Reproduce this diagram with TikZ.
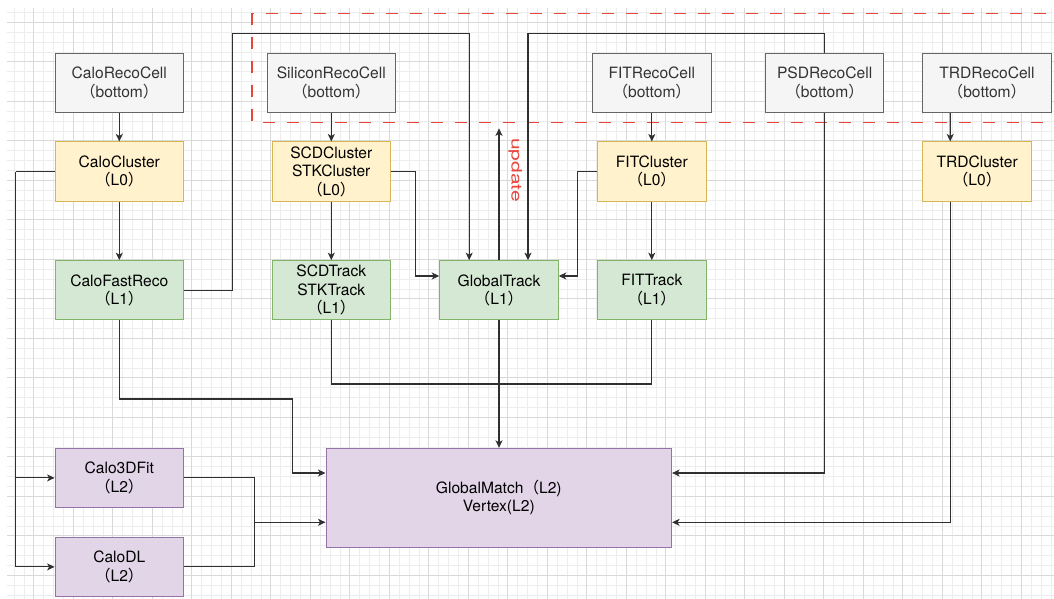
\documentclass[tikz,border=0pt]{standalone}
\usepackage{fontspec}
\setmainfont{TeX Gyre Heros}
\newfontfamily\cjkfont{Noto Sans CJK SC}
\usetikzlibrary{arrows.meta}
\newcommand{\fwlp}{{\cjkfont （}}
\newcommand{\fwrp}{{\cjkfont ）}}

\definecolor{gridminor}{HTML}{EDEDED}
\definecolor{gridmajor}{HTML}{D9D9D9}
\definecolor{cellfill}{HTML}{F5F5F5}
\definecolor{celldraw}{HTML}{666666}
\definecolor{celltext}{HTML}{333333}
\definecolor{lzfill}{HTML}{FFF2CC}
\definecolor{lzdraw}{HTML}{D6B656}
\definecolor{lofill}{HTML}{D5E8D4}
\definecolor{lodraw}{HTML}{82B366}
\definecolor{ltfill}{HTML}{E1D5E7}
\definecolor{ltdraw}{HTML}{9673A6}
\definecolor{linecol}{HTML}{303030}
\definecolor{markred}{HTML}{E8453C}

\tikzset{
  box/.style={draw, line width=1pt, minimum height=59.25pt, inner sep=0pt,
    align=center, font=\fontsize{15.6}{18.5}\selectfont},
  cellbox/.style={box, fill=cellfill, draw=celldraw, text=celltext, minimum width=#1},
  lzbox/.style={box, fill=lzfill, draw=lzdraw, minimum width=#1},
  lobox/.style={box, fill=lofill, draw=lodraw, minimum width=#1},
  ltbox/.style={box, fill=ltfill, draw=ltdraw, minimum width=#1},
  link/.style={line width=1.1pt, draw=linecol},
  arr/.style={link, -{Stealth[length=7.5pt,width=7pt,inset=2pt]}},
  minorline/.style={draw=gridminor, line width=0.8pt},
  majorline/.style={draw=gridmajor, line width=0.9pt},
  groupframe/.style={draw=markred, line width=1.3pt, dash pattern=on 12pt off 12pt},
}

\begin{document}
\begin{tikzpicture}[x=1pt, y=-1pt]
\useasboundingbox (0,0) rectangle (1054,599);
\fill[white] (0,0) rectangle (1054,599);

% background grid
\foreach \i in {0,...,105} \draw[minorline] ({14.05+9.875*\i},8) -- ({14.05+9.875*\i},599);
\foreach \i in {0,...,59} \draw[minorline] (7,{12.425+9.875*\i}) -- (1054,{12.425+9.875*\i});
\foreach \i in {0,...,25} \draw[majorline] ({33.8+39.5*\i},8) -- ({33.8+39.5*\i},599);
\foreach \i in {0,...,14} \draw[majorline] (7,{22.3+39.5*\i}) -- (1054,{22.3+39.5*\i});

% dashed frame around the raw cell inputs
\begin{scope}
  \clip (0,0) rectangle (1054,599);
  \draw[groupframe] (251.9,13.3) rectangle (1080,122.3);
\end{scope}

% bottom-level cells
\node[cellbox=128.4pt] (calocell) at (119.3,82.9) {CaloRecoCell\\\fwlp bottom\fwrp};
\node[cellbox=128.4pt] (sicell)   at (331.3,82.9) {SiliconRecoCell\\\fwlp bottom\fwrp};
\node[cellbox=118.5pt] (fitcell)  at (651.8,82.9) {FITRecoCell\\\fwlp bottom\fwrp};
\node[cellbox=118.5pt] (psdcell)  at (824.6,82.9) {PSDRecoCell\\\fwlp bottom\fwrp};
\node[cellbox=128.4pt] (trdcell)  at (987.0,82.9) {TRDRecoCell\\\fwlp bottom\fwrp};

% L0 clusters
\node[lzbox=128.4pt] (caloclu) at (119.3,171.6) {CaloCluster\\\fwlp L0\fwrp};
\node[lzbox=118.5pt] (siclu)   at (331.3,171.6) {SCDCluster\\STKCluster\\\fwlp L0\fwrp};
\node[lzbox=108.6pt] (fitclu)  at (651.8,171.6) {FITCluster\\\fwlp L0\fwrp};
\node[lzbox=108.6pt] (trdclu)  at (977.1,171.6) {TRDCluster\\\fwlp L0\fwrp};

% L1 reconstruction
\node[lobox=128.4pt] (calofast) at (119.3,290.3) {CaloFastReco\\\fwlp L1\fwrp};
\node[lobox=118.5pt] (sitrack)  at (331.3,290.3) {SCDTrack\\STKTrack\\\fwlp L1\fwrp};
\node[lobox=118.5pt] (gtrack)   at (499.0,290.3) {GlobalTrack\\\fwlp L1\fwrp};
\node[lobox=108.6pt] (fittrack) at (651.8,290.3) {FITTrack\\\fwlp L1\fwrp};

% L2
\node[ltbox=128.4pt] (calofit) at (119.3,477.9) {Calo3DFit\\\fwlp L2\fwrp};
\node[ltbox=128.4pt] (calodl)  at (119.3,566.9) {CaloDL\\\fwlp L2\fwrp};
\node[ltbox=345.6pt, minimum height=98.75pt] (gmatch) at (498.8,497.7)
  {GlobalMatch\fwlp L2)\\Vertex(L2)};

% routing points
\coordinate (trunk)  at (15.9,171.6);
\coordinate (fastup) at (232.3,33.3);
\coordinate (psdtop) at (528.0,33.3);
\coordinate (sijog)  at (415.1,276.0);
\coordinate (fitjog) at (577.9,276.0);
\coordinate (updtip) at (499.0,128.3);
\coordinate (tbus)   at (0,384.0);
\coordinate (fastjog) at (292.1,399.0);
\coordinate (l2join) at (254.6,522.3);

% vertical chains
\draw[arr] (calocell) -- (caloclu);
\draw[arr] (caloclu) -- (calofast);
\draw[arr] (sicell) -- (siclu);
\draw[arr] (siclu) -- (sitrack);
\draw[arr] (fitcell) -- (fitclu);
\draw[arr] (fitclu) -- (fittrack);
\draw[arr] ([xshift=-36.8pt]trdcell.south) -- ([xshift=-26.9pt]trdclu.north);

% calo cluster to the L2 calo fits
\draw[link] (caloclu.west) -- (trunk);
\draw[arr] (trunk) |- (calofit.west);
\draw[arr] (trunk) |- (calodl.west);

% inputs of GlobalTrack
\draw[arr] (calofast.east) -| (fastup) -| ([xshift=-29.8pt]gtrack.north);
\draw[arr] (psdcell.north) |- (psdtop) -- ([xshift=29pt]gtrack.north);
\draw[arr] (siclu.east) -| (sijog) -- (sijog -| gtrack.west);
\draw[arr] (fitclu.west) -| (fitjog) -- (fitjog -| gtrack.east);

% update feedback
\draw[arr] (gtrack.north) -- (updtip);
\node[rotate=-90, text=markred, inner sep=0pt, font=\fontsize{14.5}{14.5}\selectfont]
  (updlabel) at (515.4,170) {\scalebox{1.45}[1]{update}};

% inputs of GlobalMatch
\draw[link] (sitrack.south) |- (tbus -| fittrack.south) -- (fittrack.south);
\draw[arr] (gtrack.south) -- (gtrack.south |- gmatch.north);
\draw[arr] (calofast.south) |- (fastjog) |- ([yshift=24.7pt]gmatch.west);
\draw[link] (calofit.east) -| (l2join);
\draw[link] (calodl.east) -| (l2join);
\draw[arr] (l2join) -- ([yshift=-24.6pt]gmatch.west);
\draw[arr] (psdcell.south) |- ([yshift=24.7pt]gmatch.east);
\draw[arr] ([xshift=-26.9pt]trdclu.south) |- ([yshift=-24.6pt]gmatch.east);
\end{tikzpicture}
\end{document}
